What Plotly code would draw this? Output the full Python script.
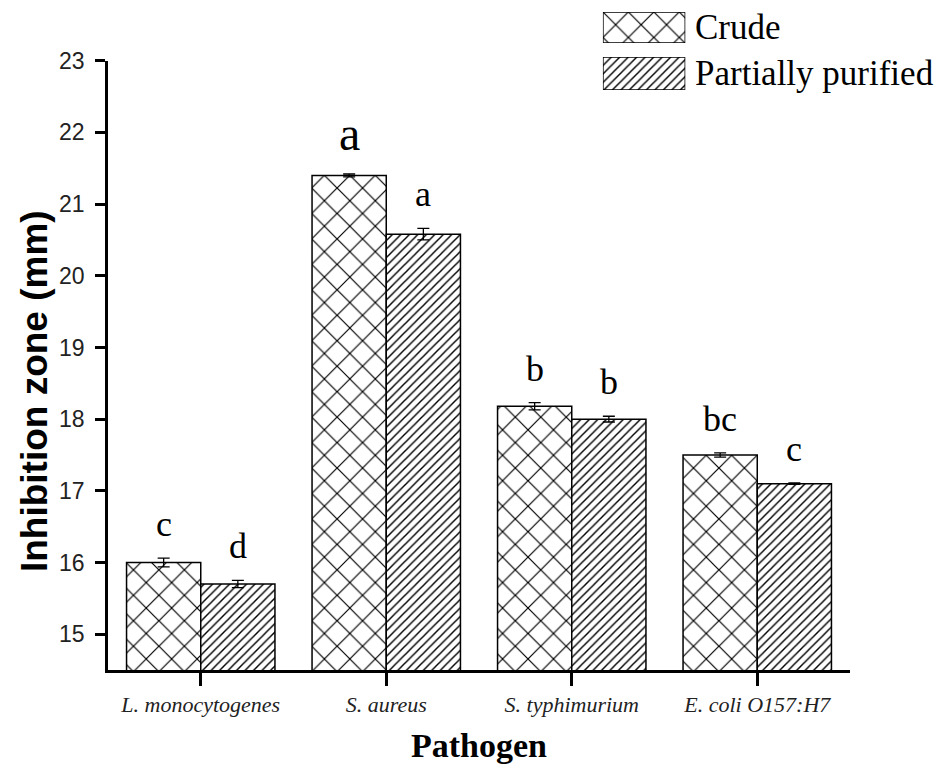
import plotly.graph_objects as go

# ---- data ----
pathogens = ["L. monocytogenes", "S. aureus", "S. typhimurium", "E. coli O157:H7"]
crude = [16.0, 21.4, 18.18, 17.5]
crude_err = [0.06, 0.02, 0.05, 0.03]
partial = [15.7, 20.58, 18.0, 17.1]
partial_err = [0.05, 0.08, 0.04, 0.01]
crude_letters = ["c", "a", "b", "bc"]
partial_letters = ["d", "a", "b", "c"]
series_names = ["Crude", "Partially purified"]
y_title = "Inhibition zone (mm)"
x_title = "Pathogen"

SERIF = "Liberation Serif, Times New Roman, serif"
SANS = "Liberation Sans, Arial, sans-serif"

cross = dict(shape="x", size=18, solidity=0.13, fgcolor="black", bgcolor="white", fgopacity=1)
diag = dict(shape="/", size=6, solidity=0.24, fgcolor="black", bgcolor="white", fgopacity=1)
outline = dict(color="black", width=1.5)
errstyle = dict(type="data", thickness=1.3, width=6, color="black")

fig = go.Figure()
fig.add_trace(go.Bar(
    x=pathogens, y=crude, name=series_names[0],
    error_y=dict(array=crude_err, **errstyle),
    marker=dict(color="white", pattern=cross, line=outline),
    showlegend=False,
))
fig.add_trace(go.Bar(
    x=pathogens, y=partial, name=series_names[1],
    error_y=dict(array=partial_err, **errstyle),
    marker=dict(color="white", pattern=diag, line=outline),
    showlegend=False,
))

# legend swatches drawn as bars on small hidden inset axes
fig.add_trace(go.Bar(x=[1], y=[0], orientation="h", width=1, xaxis="x2", yaxis="y2",
                     marker=dict(color="white", pattern=cross, line=dict(color="black", width=1.5)),
                     showlegend=False, hoverinfo="skip"))
fig.add_trace(go.Bar(x=[1], y=[0], orientation="h", width=1, xaxis="x3", yaxis="y3",
                     marker=dict(color="white", pattern=diag, line=dict(color="black", width=1.5)),
                     showlegend=False, hoverinfo="skip"))

annotations = []
letter_size = {(1, "crude"): 48}
for i, p in enumerate(pathogens):
    for vals, errs, letters, shift, key in [
        (crude, crude_err, crude_letters, -37, "crude"),
        (partial, partial_err, partial_letters, 37, "partial"),
    ]:
        annotations.append(dict(
            x=p, y=vals[i] + errs[i], xref="x", yref="y",
            text=letters[i], showarrow=False, xshift=shift, yanchor="bottom", yshift=12,
            font=dict(family=SERIF, size=letter_size.get((i, key), 36), color="black"),
        ))

# legend labels
annotations.append(dict(x=0.789, y=0.9662, xref="paper", yref="paper", text=series_names[0],
                        showarrow=False, xanchor="left", yanchor="middle",
                        font=dict(family=SERIF, size=35, color="black")))
annotations.append(dict(x=0.789, y=0.8970, xref="paper", yref="paper", text=series_names[1],
                        showarrow=False, xanchor="left", yanchor="middle",
                        font=dict(family=SERIF, size=35, color="black")))
# y-axis title
annotations.append(dict(x=-0.0997, y=0.4195, xref="paper", yref="paper", text="<b>" + y_title + "</b>",
                        showarrow=False, textangle=-90, xanchor="center", yanchor="middle",
                        font=dict(family=SANS, size=37, color="black")))

hidden = dict(visible=False, fixedrange=True)
fig.update_layout(
    width=946, height=770,
    margin=dict(l=108, r=96, t=5, b=100),
    paper_bgcolor="white", plot_bgcolor="white",
    barmode="group", bargap=0.2, bargroupgap=0,
    showlegend=False,
    xaxis=dict(
        range=[-0.5, 3.5], showline=True, linecolor="black", linewidth=2.5,
        ticks="outside", ticklen=13, tickwidth=2.5, tickcolor="black", automargin=False,
        tickfont=dict(family=SERIF, size=22, color="#222", style="italic"),
        title=dict(text="<b>" + x_title + "</b>", font=dict(family=SERIF, size=34, color="black"), standoff=18),
        showgrid=False, zeroline=False,
    ),
    yaxis=dict(
        domain=[0, 0.9162], range=[14.5, 23], dtick=1, showline=True, linecolor="black", linewidth=2.5,
        ticks="outside", ticklen=10, tickwidth=2.5, tickcolor="black", ticklabelstandoff=6,
        automargin=False,
        tickfont=dict(family=SANS, size=23, color="#222"),
        showgrid=False, zeroline=False,
    ),
    xaxis2=dict(domain=[0.667, 0.778], range=[0, 1], anchor="y2", **hidden),
    yaxis2=dict(domain=[0.9429, 0.9895], range=[-0.5, 0.5], anchor="x2", **hidden),
    xaxis3=dict(domain=[0.667, 0.778], range=[0, 1], anchor="y3", **hidden),
    yaxis3=dict(domain=[0.8722, 0.9218], range=[-0.5, 0.5], anchor="x3", **hidden),
    annotations=annotations,
)

fig.write_html(
    "out.html",
    config={"displayModeBar": False},
    post_script="document.body.style.margin='0';document.body.style.overflow='hidden';",
)
